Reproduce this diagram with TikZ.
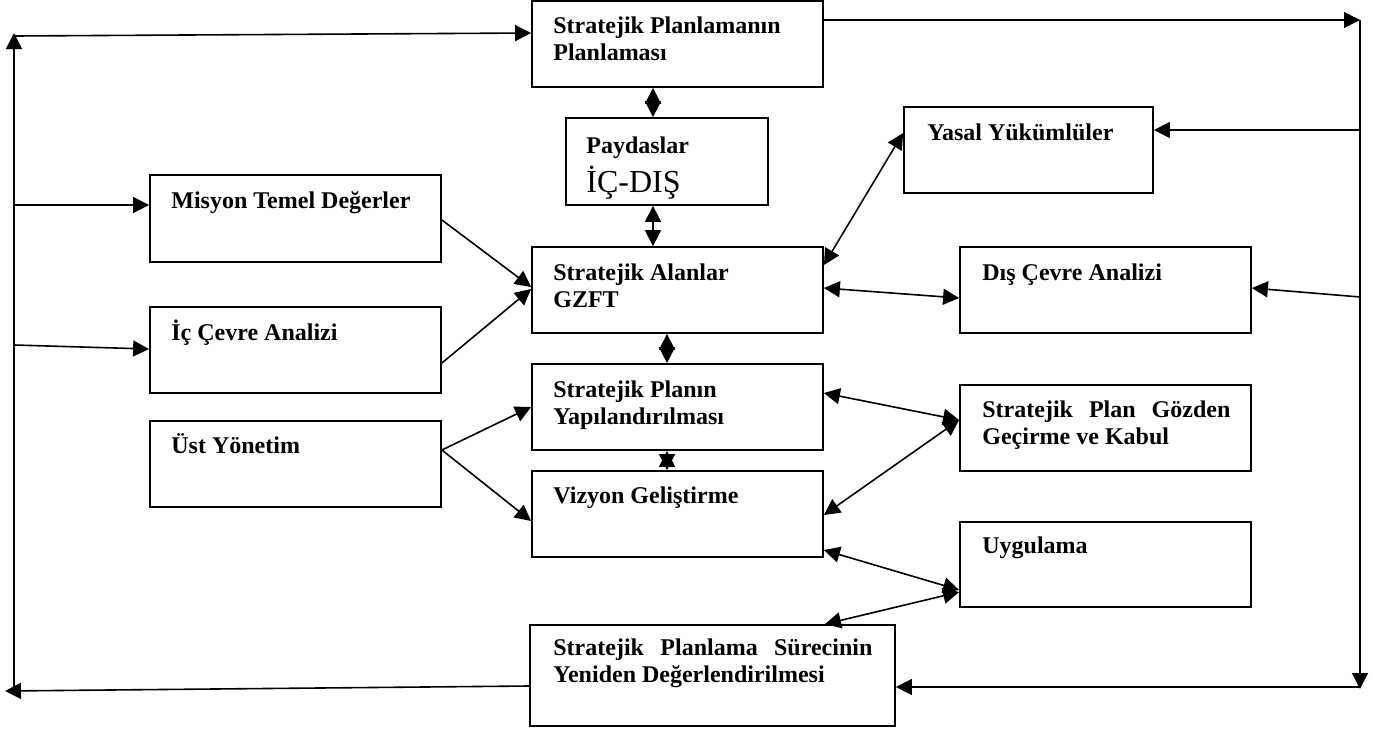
\documentclass[tikz,border=0pt]{standalone}
\usepackage{fontspec}
\setmainfont{Liberation Serif}
\usepackage{tikz}
\usetikzlibrary{arrows.meta}
\usetikzlibrary{fit}
\tikzset{box/.style = {draw, line width=0.9pt, inner sep=0pt},
         txt/.style = {anchor=base west, inner sep=0pt, text width=125pt, align=flush left,
                       font=\fontsize{12}{13.9}\selectfont\bfseries},
         arr/.style = {line width=0.8pt, -{Triangle[length=8pt, width=8pt]}},
         darr/.style = {line width=0.8pt,
                        {Triangle[length=8pt, width=8pt]}-{Triangle[length=8pt, width=8pt]}}}

\begin{document}
\begin{tikzpicture}[x=0.5pt, y=-0.5pt]
      \useasboundingbox (0, 0) rectangle (1373, 729);

      % kutular
      \node [box, fit={(532, 1) (823, 87)}] (top) {};
      \node [box, fit={(566, 118) (768, 205)}] (payd) {};
      \node [box, fit={(532, 247) (823, 333)}] (gzft) {};
      \node [box, fit={(532, 364) (823, 450)}] (plan) {};
      \node [box, fit={(532, 471) (823, 557)}] (viz) {};
      \node [box, fit={(530, 625) (895, 726)}] (bot) {};
      \node [box, fit={(150, 175) (441, 262)}] (mis) {};
      \node [box, fit={(150, 307) (441, 393)}] (ic) {};
      \node [box, fit={(150, 421) (441, 507)}] (ust) {};
      \node [box, fit={(904, 107) (1153, 193)}] (yasal) {};
      \node [box, fit={(960, 247) (1251, 333)}] (dis) {};
      \node [box, fit={(960, 385) (1251, 471)}] (goz) {};
      \node [box, fit={(960, 522) (1251, 607)}] (uyg) {};

      % yazilar
      \node [txt] (topt) at (553, 33) {Stratejik Planlamanın\\Planlaması};
      \node [txt] (paydt) at (586, 153) {Paydaslar};
      \node [txt, font=\fontsize{16}{18}\selectfont] (paydu) at (586, 192) {İÇ-DIŞ};
      \node [txt] (gzftt) at (553, 280) {Stratejik Alanlar\\GZFT};
      \node [txt] (plant) at (553, 397) {Stratejik Planın\\Yapılandırılması};
      \node [txt] (vizt) at (553, 503) {Vizyon Geliştirme};
      \node [txt, text width=159.5pt, align=justify] (bott) at (553, 655)
            {Stratejik Planlama Sürecinin\linebreak Yeniden Değerlendirilmesi};
      \node [txt] (mist) at (171, 208) {Misyon Temel Değerler};
      \node [txt] (ict) at (171, 340) {İç Çevre Analizi};
      \node [txt] (ustt) at (171, 453) {Üst Yönetim};
      \node [txt] (yasalt) at (927, 140) {Yasal Yükümlüler};
      \node [txt] (dist) at (982, 280) {Dış Çevre Analizi};
      \node [txt, text width=124pt, align=justify] (gozt) at (982, 417)
            {Stratejik Plan Gözden\linebreak Geçirme ve Kabul};
      \node [txt] (uygt) at (982, 553) {Uygulama};

      % dis cerceve
      \coordinate (rtop) at (1360, 20);
      \coordinate (rbot) at (1360, 689);
      \coordinate (rb) at (1360, 687);
      \coordinate (ryas) at (1360, 130);
      \coordinate (rdis) at (1360, 297);
      \coordinate (lt) at (14, 33);
      \coordinate (lb) at (14, 691);
      \coordinate (lbot) at (5, 691);
      \coordinate (ltop) at (14, 36);
      \coordinate (lmis) at (14, 205);
      \coordinate (lic) at (14, 345);

      \draw [arr] (top.east |- 0, 20) -- (rtop);
      \draw [arr] (rtop) -- (rbot);
      \draw [arr] (rb) -- (bot.east |- 0, 687);
      \draw [arr] (ryas) -- (yasal.east |- 0, 130);
      \draw [arr] (rdis) -- (dis.east |- 0, 288);
      \draw [arr] (bot.west |- 0, 686) -- (lbot);
      \draw [arr] (lb) -- (lt);
      \draw [arr] (ltop) -- (top.west |- 0, 33);
      \draw [arr] (lmis) -- (mis.west |- 0, 205);
      \draw [arr] (lic) -- (ic.west |- 0, 349);

      % ic baglantilar
      \draw [darr] (top.south -| 653, 0) -- (payd.north -| 653, 0);
      \draw [darr] (payd.south -| 653, 0) -- (gzft.north -| 653, 0);
      \draw [darr] (gzft.south -| 667, 0) -- (plan.north -| 667, 0);
      \draw [darr] (plan.south -| 667, 0) -- (viz.north -| 667, 0);

      \draw [arr] (mis.east |- 0, 220) -- (gzft.west |- 0, 287);
      \draw [arr] (ic.east |- 0, 363) -- (gzft.west |- 0, 289);
      \draw [arr] (ust.east |- 0, 450) -- (plan.west |- 0, 407);
      \draw [arr] (ust.east |- 0, 450) -- (viz.west |- 0, 521);

      \draw [darr] (gzft.east |- 0, 265) -- (yasal.west |- 0, 133);
      \draw [darr] (gzft.east |- 0, 288) -- (dis.west |- 0, 298);
      \draw [darr] (plan.east |- 0, 393) -- (goz.west |- 0, 420);
      \draw [darr] (viz.east |- 0, 515) -- (goz.west |- 0, 420);
      \draw [darr] (viz.east |- 0, 550) -- (uyg.west |- 0, 590);
      \draw [darr] (uyg.west |- 0, 592) -- (bot.north -| 825, 0);
\end{tikzpicture}
\end{document}
